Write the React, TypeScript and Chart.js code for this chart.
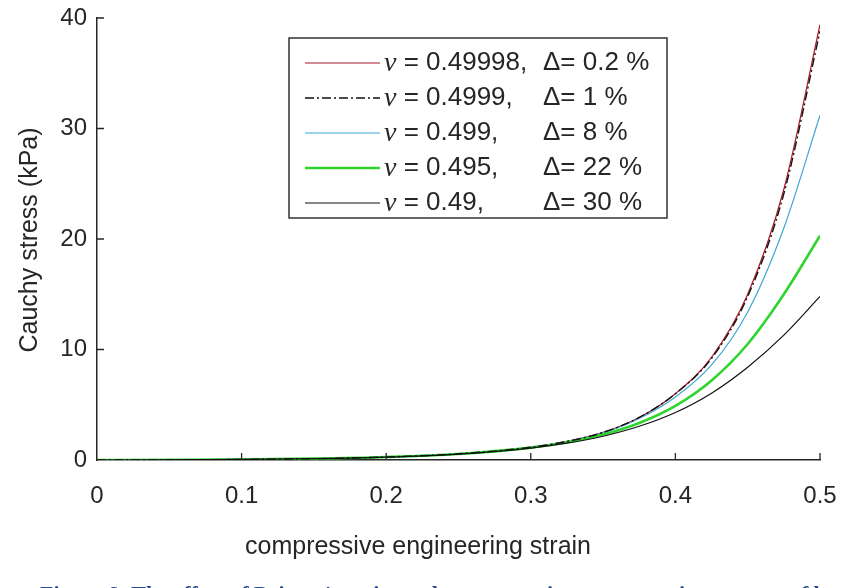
import React, { useEffect, useRef } from "react";
import { Chart, registerables } from "chart.js";

Chart.register(...registerables);

// ---- data ----
const strain = [0, 0.05, 0.1, 0.15, 0.2, 0.25, 0.3, 0.325, 0.35, 0.375, 0.4, 0.425, 0.45, 0.475, 0.5];
const nu49998 = [0, 0.01, 0.05, 0.12, 0.27, 0.56, 1.15, 1.68, 2.5, 3.85, 6.0, 9.3, 15.0, 24.5, 39.4];
const nu4999 = [0, 0.01, 0.05, 0.12, 0.27, 0.56, 1.15, 1.68, 2.5, 3.85, 6.0, 9.2, 14.8, 24.1, 38.8];
const nu499 = [0, 0.01, 0.05, 0.12, 0.27, 0.56, 1.15, 1.67, 2.45, 3.75, 5.7, 8.6, 13.4, 21.0, 31.2];
const nu495 = [0, 0.01, 0.05, 0.12, 0.27, 0.55, 1.12, 1.6, 2.3, 3.35, 4.9, 7.2, 10.5, 15.0, 20.3];
const nu49 = [0, 0.01, 0.05, 0.12, 0.26, 0.54, 1.08, 1.52, 2.15, 3.05, 4.3, 6.05, 8.4, 11.3, 14.8];

const xTicks = [0, 0.1, 0.2, 0.3, 0.4, 0.5];
const yTicks = [0, 10, 20, 30, 40];

const legendNu = ["0.49998,", "0.4999,", "0.499,", "0.495,", "0.49,"];
const legendDelta = ["0.2 %", "1 %", "8 %", "22 %", "30 %"];

const xTitle = "compressive engineering strain";
const yTitle = "Cauchy stress (kPa)";
const caption = "Figure 6: The effect of Poisson's ratio on the compressive stress–strain response of brain tissue";

const SANS = "'Liberation Sans', Arial, sans-serif";
const SERIF = "'Liberation Serif', 'Times New Roman', serif";

const styles = [
  { color: "#a8182b", width: 1.2, dash: [] as number[] },
  { color: "#111111", width: 1.4, dash: [9, 3, 2, 3] },
  { color: "#3fa6d6", width: 1.2, dash: [] as number[] },
  { color: "#2fd42f", width: 2.6, dash: [] as number[] },
  { color: "#111111", width: 1.2, dash: [] as number[] },
];

const toPts = (ys: number[]) => strain.map((x, i) => ({ x, y: ys[i] }));

const overlay = {
  id: "overlay",
  afterDraw(chart: any) {
    const ctx = chart.ctx as CanvasRenderingContext2D;
    const xs = chart.scales.x;
    const ys = chart.scales.y;
    const ca = chart.chartArea;
    ctx.save();
    // inward ticks
    ctx.strokeStyle = "#262626";
    ctx.lineWidth = 1.3;
    ctx.beginPath();
    xTicks.forEach((t) => {
      if (t === 0) return;
      const px = xs.getPixelForValue(t);
      ctx.moveTo(px, ca.bottom);
      ctx.lineTo(px, ca.bottom - 7);
    });
    yTicks.forEach((t) => {
      if (t === 0) return;
      const py = ys.getPixelForValue(t);
      ctx.moveTo(ca.left, py);
      ctx.lineTo(ca.left + 7, py);
    });
    ctx.stroke();

    // titles
    ctx.fillStyle = "#262626";
    ctx.font = `25px ${SANS}`;
    ctx.textAlign = "center";
    ctx.textBaseline = "middle";
    ctx.fillText(xTitle, 418, 547);
    ctx.save();
    ctx.translate(30, 240);
    ctx.rotate(-Math.PI / 2);
    ctx.fillText(yTitle, 0, 0);
    ctx.restore();

    // caption (cut off at the bottom)
    ctx.fillStyle = "#2b4a8a";
    ctx.font = `bold 22px ${SERIF}`;
    ctx.textAlign = "left";
    ctx.textBaseline = "alphabetic";
    ctx.fillText(caption, 40, 601);

    // legend
    const bx = 289, by = 38, bw = 378, bh = 180;
    ctx.fillStyle = "#ffffff";
    ctx.fillRect(bx, by, bw, bh);
    ctx.strokeStyle = "#333333";
    ctx.lineWidth = 1.5;
    ctx.strokeRect(bx, by, bw, bh);
    const rowY = [63, 98, 133, 168, 203];
    rowY.forEach((y, i) => {
      const s = styles[i];
      ctx.strokeStyle = s.color;
      ctx.lineWidth = s.width;
      ctx.setLineDash(s.dash);
      ctx.beginPath();
      ctx.moveTo(305, y);
      ctx.lineTo(380, y);
      ctx.stroke();
      ctx.setLineDash([]);
      ctx.fillStyle = "#262626";
      ctx.textBaseline = "middle";
      ctx.textAlign = "left";
      ctx.font = `italic 28px ${SERIF}`;
      ctx.fillText("ν", 384, y + 1);
      const w = ctx.measureText("ν").width;
      ctx.font = `26px ${SANS}`;
      ctx.fillText(" = " + legendNu[i], 384 + w, y);
      ctx.fillText("Δ= " + legendDelta[i], 543, y);
    });
    ctx.restore();
  },
};

export default function App() {
  const ref = useRef<HTMLCanvasElement>(null);
  useEffect(() => {
    if (!ref.current) return;
    const series = [nu49998, nu4999, nu499, nu495, nu49];
    const orders = [5, 1, 4, 3, 2];
    const chart = new Chart(ref.current, {
      type: "line",
      data: {
        datasets: series.map((s, i) => ({
          data: toPts(s),
          borderColor: styles[i].color,
          borderWidth: styles[i].width,
          borderDash: styles[i].dash,
          pointRadius: 0,
          fill: false,
          tension: 0.4,
          cubicInterpolationMode: "monotone" as const,
          order: orders[i],
        })),
      },
      options: {
        animation: false,
        responsive: false,
        maintainAspectRatio: false,
        layout: { padding: { top: 18, right: 25, left: 0, bottom: 0 } },
        plugins: { legend: { display: false }, tooltip: { enabled: false } },
        scales: {
          x: {
            type: "linear",
            min: 0,
            max: 0.5,
            afterBuildTicks: (sc: any) => {
              sc.ticks = xTicks.map((v) => ({ value: v }));
            },
            afterFit: (sc: any) => {
              sc.height = 588 - 460;
              sc.paddingLeft = 0;
              sc.paddingRight = 0;
            },
            grid: { display: false, drawTicks: false },
            border: { display: true, color: "#262626", width: 1.5 },
            ticks: {
              color: "#262626",
              font: { family: SANS, size: 24 },
              padding: 22,
              maxRotation: 0,
              callback: (v: any) => (v === 0 ? "0" : String(Number(v).toFixed(1))),
            },
          },
          y: {
            type: "linear",
            min: 0,
            max: 40,
            afterBuildTicks: (sc: any) => {
              sc.ticks = yTicks.map((v) => ({ value: v }));
            },
            afterFit: (sc: any) => {
              sc.width = 97;
              sc.paddingTop = 0;
              sc.paddingBottom = 0;
            },
            grid: { display: false, drawTicks: false },
            border: { display: true, color: "#262626", width: 1.5 },
            ticks: {
              color: "#262626",
              font: { family: SANS, size: 24 },
              padding: 10,
            },
          },
        },
      },
      plugins: [overlay],
    } as any);
    return () => chart.destroy();
  }, []);
  return (
    <div style={{ position: "fixed", left: 0, top: 0, width: 845, height: 588, background: "#fff" }}>
      <canvas ref={ref} width={845} height={588} style={{ display: "block" }} />
    </div>
  );
}
